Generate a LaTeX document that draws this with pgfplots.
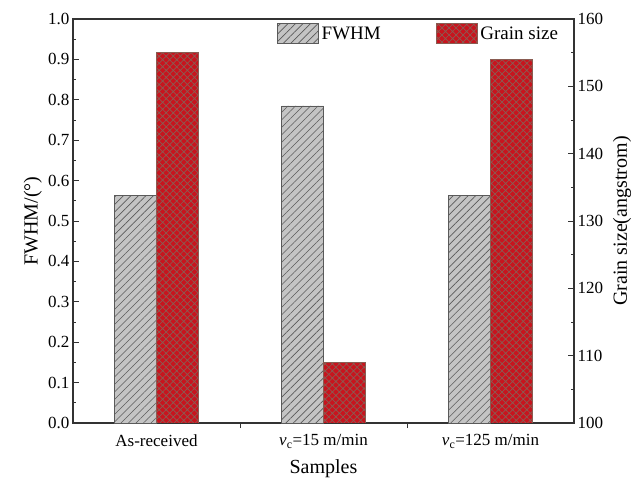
\documentclass[border=0pt]{standalone}
\usepackage{pgfplots}
\pgfplotsset{compat=1.18}
\usepackage{fontspec}
\setmainfont{Liberation Serif}
\usetikzlibrary{patterns.meta}
\definecolor{barGrey}{HTML}{C4C4C4}
\definecolor{lineGrey}{HTML}{5A5A5A}
\definecolor{barRed}{HTML}{C8141E}
\definecolor{hatchBrown}{HTML}{8A5C52}
\definecolor{axisDark}{HTML}{333333}

\pgfplotsset{
  common/.style={
    scale only axis, width=501pt, height=404pt,
    at={(0pt,0pt)}, anchor=south west,
    xmin=0.5, xmax=3.5,
    axis line style={axisDark, line width=1.1pt},
    tick style={axisDark, line width=0.9pt},
    tick align=inside,
    major tick length=6pt, minor tick length=3.5pt,
    ybar, bar width=0.25,
    /pgf/number format/assume math mode=true,
    tick label style={font=\fontsize{17}{20}\selectfont},
    legend image code/.code={\draw[##1,/tikz/.cd] (0pt,-10pt) rectangle (41pt,10pt);},
  },
  greybar/.style={draw=lineGrey, line width=0.6pt, fill=barGrey,
    postaction={pattern={Lines[angle=45,distance=5.3pt,line width=0.6pt]}, pattern color=lineGrey}},
  redbar/.style={draw=hatchBrown, line width=0.6pt, fill=barRed,
    postaction={pattern={Hatch[angle=45,distance=5pt,line width=0.7pt]}, pattern color=hatchBrown}},
}

\begin{document}
\begin{tikzpicture}
\path[use as bounding box] (-73pt,-61pt) rectangle (569pt,423pt);
\begin{axis}[common,
  ymin=0, ymax=1,
  ytick distance=0.1, minor y tick num=1,
  ytick pos=left, xtick pos=bottom,
  yticklabel style={/pgf/number format/.cd, fixed, fixed zerofill, precision=1},
  xtick={1,2,3},
  xticklabels={As-received, \textit{v}\textsubscript{c}=15 m/min, \textit{v}\textsubscript{c}=125 m/min},
  major x tick style={draw=none},
  xticklabel style={yshift=-2pt},
  extra x ticks={1.5,2.5}, extra x tick labels={},
  extra x tick style={major x tick style={draw=axisDark, line width=0.9pt}, major tick length=5pt},
  xlabel={Samples},
  ylabel={FWHM/(°)},
  every axis x label/.style={at={(axis description cs:0.5,-0.113)}, anchor=center, font=\fontsize{20}{24}\selectfont},
  every axis y label/.style={at={(axis description cs:-0.08,0.5)}, rotate=90, anchor=center, font=\fontsize{20}{24}\selectfont},
]
\addplot[greybar, bar shift=-0.125] coordinates {(1,0.563) (2,0.785) (3,0.563)};
\end{axis}
\begin{axis}[common,
  axis x line=none, axis y line*=right,
  ymin=100, ymax=160,
  ytick distance=10, minor y tick num=1,
  ylabel={Grain size(angstrom)},
  every axis y label/.style={at={(axis description cs:1.096,0.5)}, rotate=90, anchor=center, font=\fontsize{20}{24}\selectfont},
  legend columns=2,
  legend style={draw=none, fill=none, at={(axis description cs:0.407,0.99)}, anchor=north west,
    inner sep=0pt, font=\fontsize{19}{22}\selectfont,
    /tikz/every even column/.append style={column sep=52pt},
    nodes={inner sep=3pt}},
]
\addlegendimage{greybar}
\addlegendentry{FWHM}
\addplot[redbar, bar shift=0.125] coordinates {(1,155) (2,109) (3,154)};
\addlegendentry{Grain size}
\end{axis}
\end{tikzpicture}
\end{document}
